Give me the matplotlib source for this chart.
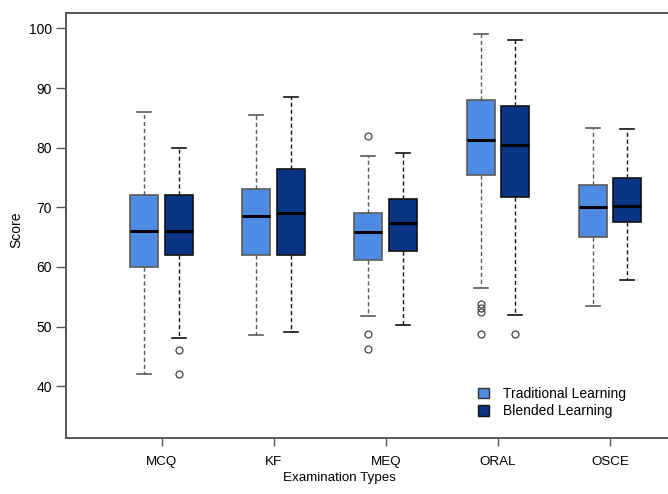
import numpy as np
import matplotlib
matplotlib.use("Agg")
import matplotlib.pyplot as plt
from matplotlib.patches import Patch

plt.rcParams['font.family'] = ['Liberation Sans', 'DejaVu Sans']

# exam types on the x axis
exams = ['MCQ', 'KF', 'MEQ', 'ORAL', 'OSCE']

# five-number summaries (whisker low, Q1, median, Q3, whisker high)
trad_lo = [42.0, 48.5, 51.8, 56.4, 53.5]
trad_q1 = [60.0, 62.0, 61.1, 75.4, 65.1]
trad_med = [66.0, 68.5, 65.8, 81.3, 70.0]
trad_q3 = [72.0, 73.0, 69.1, 88.0, 73.7]
trad_hi = [86.0, 85.5, 78.6, 99.0, 83.3]
trad_out = [[], [], [82.0, 48.8, 46.2], [53.8, 53.1, 52.4, 48.7], []]

blend_lo = [48.0, 49.0, 50.3, 52.0, 57.8]
blend_q1 = [62.0, 62.0, 62.7, 71.7, 67.5]
blend_med = [66.0, 69.0, 67.3, 80.5, 70.3]
blend_q3 = [72.0, 76.5, 71.4, 87.0, 75.0]
blend_hi = [80.0, 88.5, 79.1, 98.0, 83.1]
blend_out = [[46.0, 42.0], [], [], [48.7], []]

light = '#4f8be2'
dark = '#0a3585'


def make_stats(lo, q1, med, q3, hi, out):
    return [dict(whislo=a, q1=b, med=c, q3=d, whishi=e, fliers=f)
            for a, b, c, d, e, f in zip(lo, q1, med, q3, hi, out)]


fig = plt.figure(figsize=(6.68, 4.94), dpi=100)
ax = fig.add_axes([0.0988, 0.1134, 0.9012, 0.8603])

x = np.arange(1, len(exams) + 1)
off = 0.155

def draw(stats, pos, face, edge):
    ax.bxp(stats, positions=pos, widths=0.25, patch_artist=True,
           boxprops=dict(facecolor=face, edgecolor=edge, linewidth=1.2),
           whiskerprops=dict(color=edge, linestyle=(0, (3, 2)), linewidth=1.0),
           capprops=dict(color=edge, linewidth=1.2),
           medianprops=dict(color='black', linewidth=2.2),
           flierprops=dict(marker='o', markerfacecolor='none', markeredgecolor='#444444',
                           markersize=5, markeredgewidth=0.9),
           manage_ticks=False)

draw(make_stats(trad_lo, trad_q1, trad_med, trad_q3, trad_hi, trad_out), x - off, light, '#5a5a5a')
draw(make_stats(blend_lo, blend_q1, blend_med, blend_q3, blend_hi, blend_out), x + off, dark, '#111111')

ax.set_xlim(0.1455, 5.518)
ax.set_ylim(31.3, 102.6)
ax.set_xticks(x)
ax.set_xticklabels(exams, fontsize=9.6)
ax.set_yticks([40, 50, 60, 70, 80, 90, 100])
ax.tick_params(axis='y', labelsize=10, length=7, width=1, color='#555555', pad=3)
ax.tick_params(axis='x', length=6, width=1, color='#555555', pad=7)

for s in ['left', 'bottom', 'top']:
    ax.spines[s].set_color('#555555')
    ax.spines[s].set_linewidth(1.4)
ax.spines['right'].set_visible(False)

ax.set_xlabel('Examination Types', fontsize=9.6)
ax.xaxis.set_label_coords(0.4535, -0.081)
ax.set_ylabel('Score', fontsize=10)
ax.yaxis.set_label_coords(-0.071, 0.49)

handles = [Patch(facecolor=light, edgecolor='#333333', label='Traditional Learning'),
           Patch(facecolor=dark, edgecolor='#111111', label='Blended Learning')]
ax.legend(handles=handles, loc='lower left', bbox_to_anchor=(0.675, 0.033), frameon=False,
          fontsize=10, handlelength=0.8, handleheight=0.8, handletextpad=1.0,
          labelspacing=0.25, borderaxespad=0)

fig.savefig('out.png', dpi=100)
